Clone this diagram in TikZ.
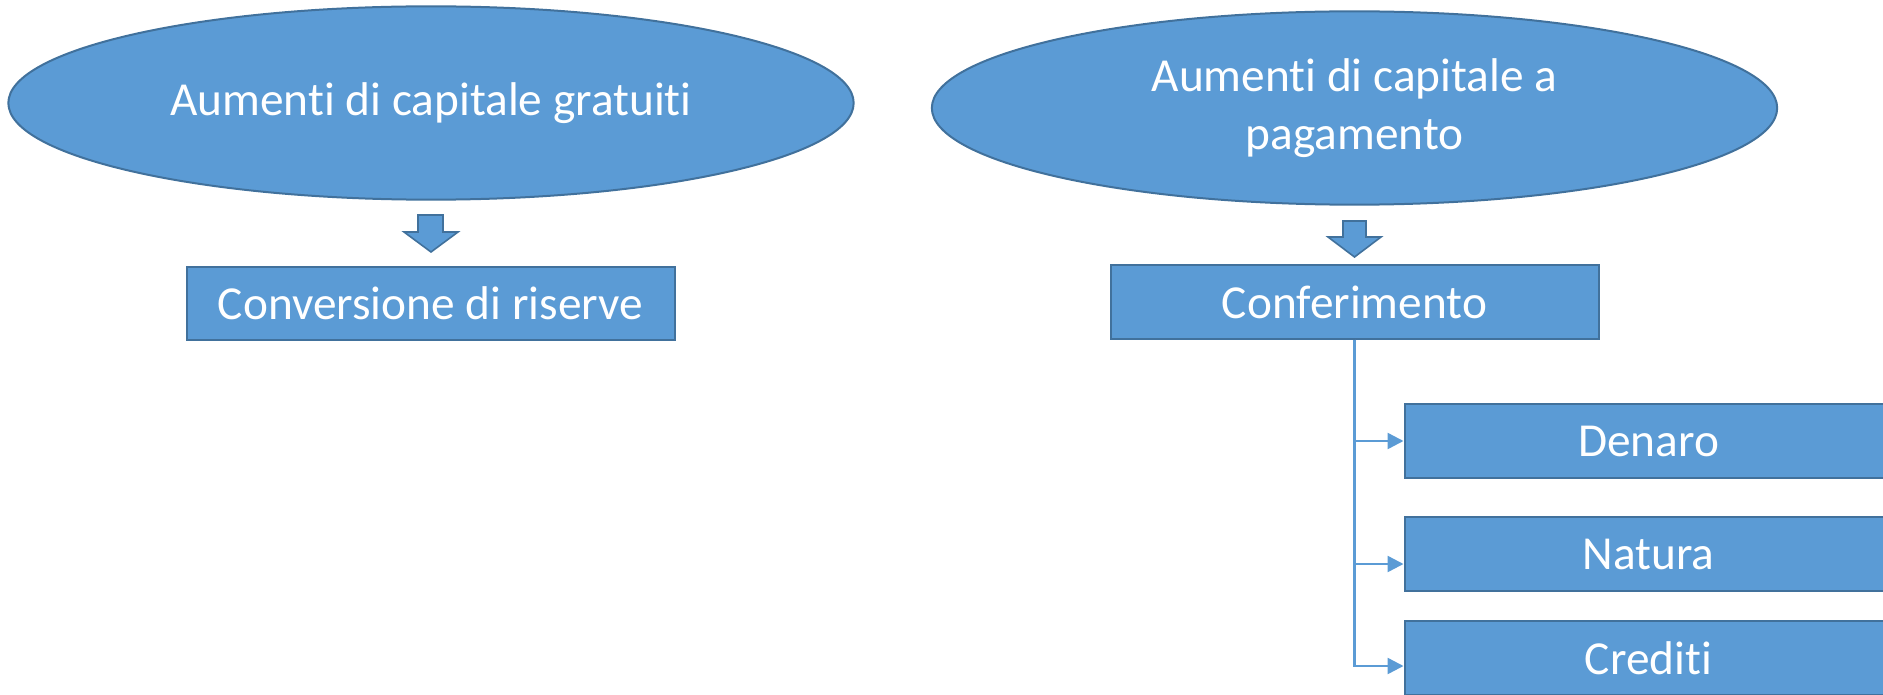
\documentclass[tikz,border=0pt]{standalone}
\usepackage{fontspec}
\setmainfont{Carlito}[Ligatures=NoCommon]
\usetikzlibrary{shapes.geometric,arrows.meta}

\definecolor{boxblue}{HTML}{5B9BD5}
\definecolor{edgeblue}{HTML}{41719C}

\tikzset{every picture/.style={line width=0.75pt}}
\tikzset{
  bigoval/.style={ellipse,draw=edgeblue,fill=boxblue,line width=1.5pt,inner sep=0pt,
    minimum width=634pt,minimum height=145pt,text=white,align=center,
    font=\fontsize{35.5}{44}\selectfont},
  bluebox/.style={rectangle,draw=edgeblue,fill=boxblue,line width=1.5pt,inner sep=0pt,
    minimum width=366pt,minimum height=55pt,text=white,
    font=\fontsize{35.5}{44}\selectfont},
  downarrow/.style={draw=edgeblue,fill=boxblue,line width=1.2pt,line join=miter},
  link/.style={draw=boxblue,line width=1.8pt,-{Triangle[length=12pt,width=12pt]}}
}

\begin{document}
\begin{tikzpicture}[x=0.75pt,y=0.75pt,yscale=-1,xscale=1]
        \useasboundingbox (0,0) rectangle (1883,695);
        \clip (0,0) rectangle (1883,695);
        % top ovals
        \node [bigoval] (gratis) at (431,103) {Aumenti di capitale gratuiti};
        \node [bigoval] (pagam) at (1354.5,108) {Aumenti di capitale a\\pagamento};
        % boxes below
        \node [bluebox] (conv) at (430.5,303.5) {Conversione di riserve};
        \node [bluebox] (conf) at (1354.5,302) {Conferimento};
        \node [bluebox] (denaro) at (1648.5,441) {Denaro};
        \node [bluebox] (natura) at (1648.5,554) {Natura};
        \node [bluebox] (crediti) at (1648.5,658) {Crediti};
        % block arrows
        \draw [downarrow] (418,215) -- (443,215) -- (443,232) -- (458,232) -- (431,252) -- (404,232) -- (418,232) -- cycle ;
        \draw [downarrow] (1343,221) -- (1366,221) -- (1366,237) -- (1381,237) -- (1354.5,257) -- (1328,237) -- (1343,237) -- cycle ;
        % branches
        \draw [link] (conf.south) |- (denaro.west);
        \draw [link] (conf.south) |- ([yshift=7.5pt]natura.west);
        \draw [link] (conf.south) |- ([yshift=6pt]crediti.west);
\end{tikzpicture}
\end{document}
